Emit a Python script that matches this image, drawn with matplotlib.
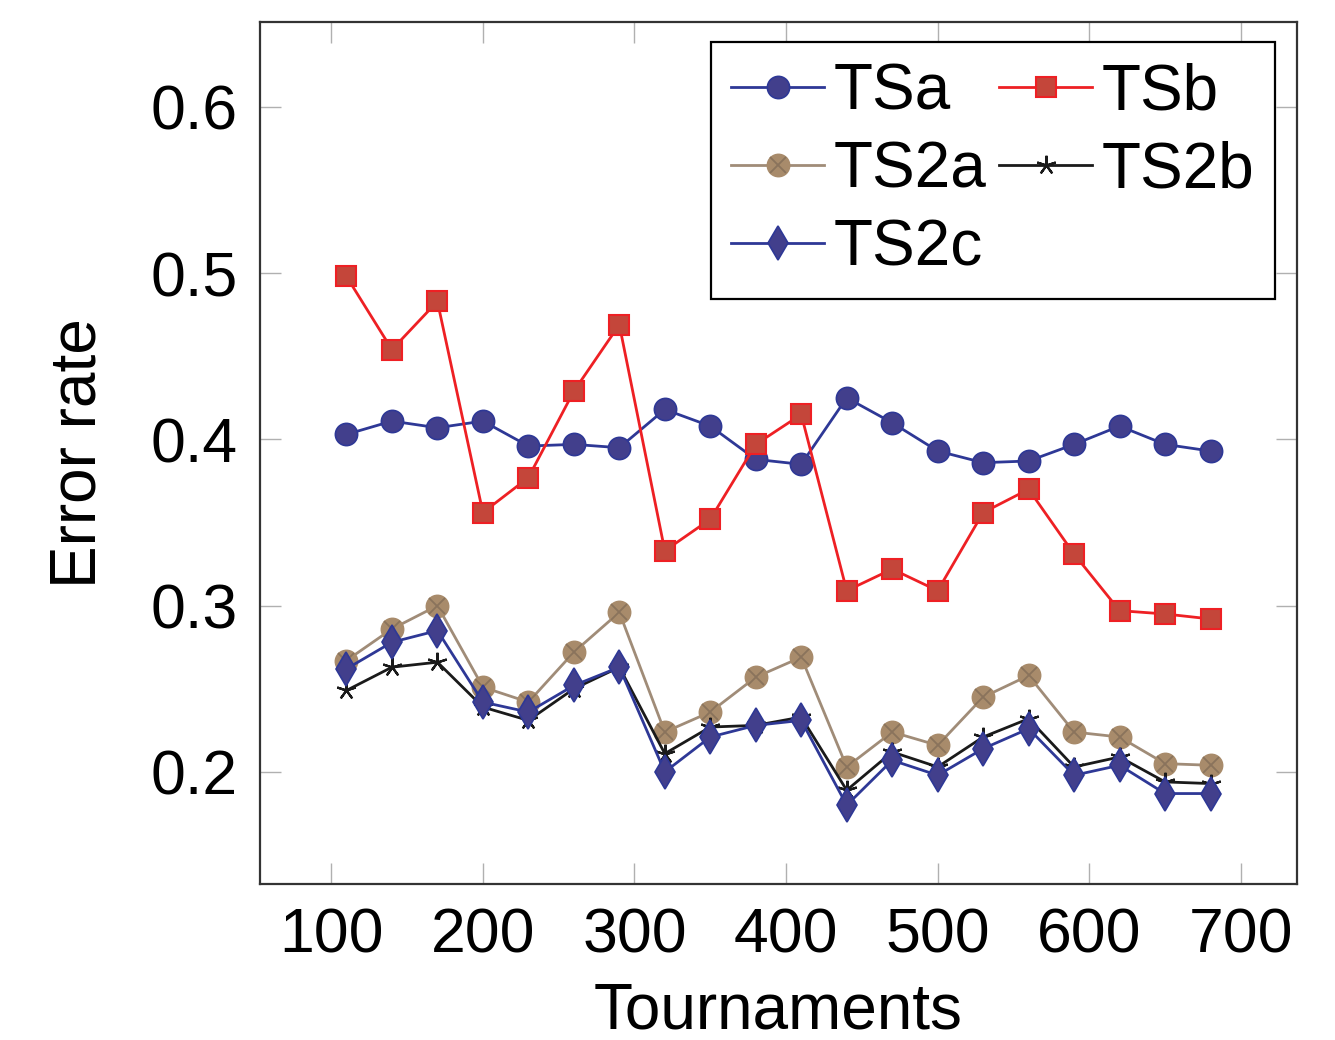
import matplotlib
matplotlib.use('Agg')
import matplotlib.pyplot as plt
from matplotlib.legend_handler import HandlerTuple

plt.rcParams['font.family'] = ['Liberation Sans', 'DejaVu Sans']

# number of tournaments
tournaments = [110, 140, 170, 200, 230, 260, 290, 320, 350, 380,
               410, 440, 470, 500, 530, 560, 590, 620, 650, 680]

ts_a = [0.403, 0.411, 0.407, 0.411, 0.396, 0.397, 0.395, 0.418, 0.408, 0.388,
        0.385, 0.425, 0.410, 0.393, 0.386, 0.387, 0.397, 0.408, 0.397, 0.393]
ts_b = [0.498, 0.454, 0.483, 0.356, 0.377, 0.429, 0.469, 0.333, 0.352, 0.397,
        0.415, 0.309, 0.322, 0.309, 0.356, 0.370, 0.331, 0.297, 0.295, 0.292]
ts2_a = [0.267, 0.286, 0.300, 0.251, 0.242, 0.272, 0.296, 0.224, 0.236, 0.257,
         0.269, 0.203, 0.224, 0.216, 0.245, 0.258, 0.224, 0.221, 0.205, 0.204]
ts2_b = [0.249, 0.263, 0.266, 0.239, 0.231, 0.250, 0.263, 0.211, 0.227, 0.228,
         0.233, 0.189, 0.212, 0.203, 0.221, 0.232, 0.203, 0.209, 0.194, 0.193]
ts2_c = [0.262, 0.278, 0.285, 0.242, 0.236, 0.252, 0.263, 0.200, 0.221, 0.228,
         0.231, 0.180, 0.207, 0.198, 0.214, 0.226, 0.198, 0.204, 0.187, 0.187]

blue_line = '#2e3896'
blue_fill = '#423f8c'
red_line = '#ee2024'
red_fill = '#c4463a'
brown_line = '#a08c78'
brown_fill = '#a88b6b'

fig = plt.figure(figsize=(13.35, 10.4), dpi=100)
ax = fig.add_axes([0.1948, 0.15, 0.7767, 0.8288])

la, = ax.plot(tournaments, ts_a, color=blue_line, lw=2, marker='o', ms=16,
              mfc=blue_fill, mec=blue_line, mew=1.2)
lb, = ax.plot(tournaments, ts_b, color=red_line, lw=2, marker='s', ms=15,
              mfc=red_fill, mec=red_line, mew=1.5)
l2a, = ax.plot(tournaments, ts2_a, color=brown_line, lw=2, marker='o', ms=16,
               mfc=brown_fill, mec=brown_fill, mew=1.2)
# crossed circle: draw the cross over the filled circle
l2a_x, = ax.plot(tournaments, ts2_a, ls='none', marker='x', ms=11,
                 mec='#8a735c', mew=1.3)
l2b, = ax.plot(tournaments, ts2_b, color='#1a1a1a', lw=2, marker=(5, 2, 0),
               ms=14, mec='#1a1a1a', mew=1.6)
l2c, = ax.plot(tournaments, ts2_c, color=blue_line, lw=2, marker='d', ms=17,
               mfc=blue_fill, mec=blue_line, mew=1.2)

ax.set_xlim(53, 737)
ax.set_ylim(0.1326, 0.651)
ax.set_xticks([100, 200, 300, 400, 500, 600, 700])
ax.set_yticks([0.2, 0.3, 0.4, 0.5, 0.6])
ax.set_yticklabels(['0.2', '0.3', '0.4', '0.5', '0.6'])
ax.tick_params(direction='in', length=15, width=1, color='#b0b0b0',
               top=True, right=True, labelsize=45, pad=16)
for sp in ax.spines.values():
    sp.set_color('#333333')
    sp.set_linewidth(1.6)

ax.set_xlabel('Tournaments', fontsize=46, labelpad=12)
ax.set_ylabel('Error rate', fontsize=46, labelpad=30)

leg = ax.legend([la, (l2a, l2a_x), l2c, lb, l2b],
                ['TSa', 'TS2a', 'TS2c', 'TSb', 'TS2b'],
                handler_map={tuple: HandlerTuple(ndivide=1)},
                ncol=2, loc='upper right', bbox_to_anchor=(0.9785, 0.9768),
                fontsize=46, handlelength=1.45, handletextpad=0.15,
                columnspacing=0.2, labelspacing=0.28, borderpad=0.32,
                borderaxespad=0, fancybox=False, framealpha=1,
                edgecolor='black')
leg.get_frame().set_linewidth(1.6)

fig.savefig('out.png', dpi=100)
